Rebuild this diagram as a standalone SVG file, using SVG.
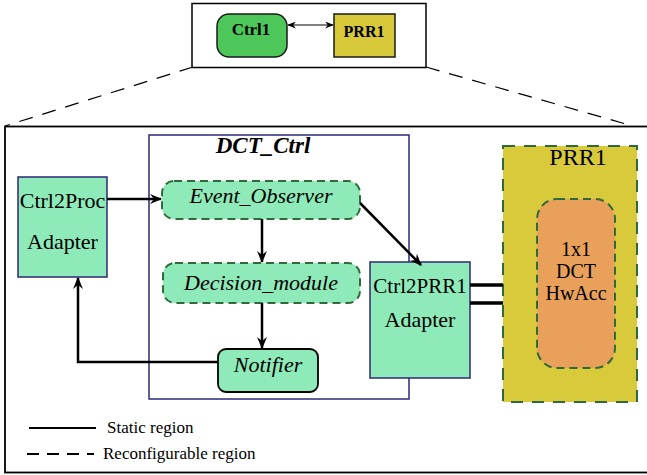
<svg xmlns="http://www.w3.org/2000/svg" width="647" height="475" viewBox="0 0 647 475">
<style>
text{font-family:"Liberation Serif","DejaVu Serif","Times New Roman",serif;fill:#000}
.static{fill:#8eeab8;stroke:#2b2a78;stroke-width:1.5}
.reconf{fill:#8eeab8;stroke:#2f6b3a;stroke-width:2;stroke-dasharray:8 5}
.conn{stroke:#000;stroke-width:2.5;fill:none}
.zoom{stroke:#000;stroke-width:1.2;fill:none;stroke-dasharray:14 10}
</style>
<defs>
<marker id="ah" viewBox="0 0 12 10" refX="11" refY="5" markerWidth="12" markerHeight="10" markerUnits="userSpaceOnUse" orient="auto">
<path d="M0,0 L12,5 L0,10 L4,5 Z" fill="#000"/>
</marker>
<marker id="sa" viewBox="0 0 10 8" refX="9" refY="4" markerWidth="9" markerHeight="7" markerUnits="userSpaceOnUse" orient="auto-start-reverse">
<path d="M0,0 L10,4 L0,8 L3,4 Z" fill="#000"/>
</marker>
</defs>
<rect width="647" height="475" fill="#fff"/>

<g id="overview">
<rect x="192" y="3.5" width="234" height="64" fill="#fff" stroke="#000" stroke-width="1.5"/>
<g id="ctrl1">
<rect x="217" y="14" width="70" height="43" rx="12" fill="#4dc65a" stroke="#1a1a1a" stroke-width="1.5"/>
<text font-family="Liberation Serif, DejaVu Serif, serif" x="251" y="35" font-size="17" font-weight="bold" text-anchor="middle">Ctrl1</text>
</g>
<g id="prr1-small">
<rect x="334" y="14" width="61" height="43" fill="#d8c93a" stroke="#1a1a1a" stroke-width="1.5"/>
<text font-family="Liberation Serif, DejaVu Serif, serif" x="364" y="37" font-size="16" font-weight="bold" text-anchor="middle">PRR1</text>
</g>
<line x1="288" y1="25" x2="333" y2="25" stroke="#000" stroke-width="1.2" marker-start="url(#sa)" marker-end="url(#sa)"/>
</g>

<g id="zoom-lines">
<line class="zoom" x1="193" y1="67" x2="5" y2="126"/>
<line class="zoom" x1="426" y1="67" x2="633" y2="126"/>
</g>

<rect id="outer" x="5" y="126.5" width="660" height="346" fill="none" stroke="#000" stroke-width="1.8"/>

<g id="dct-ctrl">
<rect x="149" y="135" width="260" height="264" fill="none" stroke="#2b2a78" stroke-width="1.5"/>
<text font-family="Liberation Serif, DejaVu Serif, serif" x="263" y="153" font-size="23" font-weight="bold" font-style="italic" text-anchor="middle">DCT_Ctrl</text>
</g>

<g id="prr1">
<rect x="503" y="146" width="134" height="256" fill="#d9ca3b" stroke="#2f6b3a" stroke-width="2" stroke-dasharray="12 9"/>
<text font-family="Liberation Serif, DejaVu Serif, serif" x="578" y="165" font-size="24" text-anchor="middle">PRR1</text>
</g>

<g id="hwacc">
<rect x="537" y="199" width="78" height="169" rx="20" fill="#e8a05a" stroke="#2f6b3a" stroke-width="2" stroke-dasharray="8 5"/>
<text font-family="Liberation Serif, DejaVu Serif, serif" x="576" y="256" font-size="20" text-anchor="middle">1x1</text>
<text font-family="Liberation Serif, DejaVu Serif, serif" x="576" y="278" font-size="20" text-anchor="middle">DCT</text>
<text font-family="Liberation Serif, DejaVu Serif, serif" x="576" y="300" font-size="20" text-anchor="middle">HwAcc</text>
</g>

<g id="ctrl2proc">
<rect class="static" x="18" y="177" width="89" height="100"/>
<text font-family="Liberation Serif, DejaVu Serif, serif" x="62.5" y="208" font-size="22" text-anchor="middle">Ctrl2Proc</text>
<text font-family="Liberation Serif, DejaVu Serif, serif" x="62.5" y="249" font-size="22" text-anchor="middle">Adapter</text>
</g>

<g id="event-observer">
<rect class="reconf" x="162" y="181" width="198" height="38" rx="12"/>
<text font-family="Liberation Serif, DejaVu Serif, serif" x="261" y="203" font-size="22" font-style="italic" text-anchor="middle">Event_Observer</text>
</g>

<g id="decision-module">
<rect class="reconf" x="163" y="263" width="197" height="40" rx="12"/>
<text font-family="Liberation Serif, DejaVu Serif, serif" x="261" y="290" font-size="22" font-style="italic" text-anchor="middle">Decision_module</text>
</g>

<g id="notifier">
<rect x="218" y="349" width="100" height="43" rx="8" fill="#8eeab8" stroke="#000" stroke-width="1.8"/>
<text font-family="Liberation Serif, DejaVu Serif, serif" x="268" y="372" font-size="22" font-style="italic" text-anchor="middle">Notifier</text>
</g>

<g id="ctrl2prr1">
<rect class="static" x="370" y="262" width="100" height="116"/>
<text font-family="Liberation Serif, DejaVu Serif, serif" x="420" y="293" font-size="21" text-anchor="middle">Ctrl2PRR1</text>
<text font-family="Liberation Serif, DejaVu Serif, serif" x="420" y="327" font-size="22" text-anchor="middle">Adapter</text>
</g>

<g id="connectors">
<line class="conn" x1="107" y1="199" x2="161" y2="199" marker-end="url(#ah)"/>
<line class="conn" x1="262" y1="219" x2="262" y2="262" marker-end="url(#ah)"/>
<line class="conn" x1="262" y1="303" x2="262" y2="348" marker-end="url(#ah)"/>
<polyline class="conn" points="218,362 78,362 78,278" marker-end="url(#ah)"/>
<line class="conn" x1="360" y1="203" x2="421" y2="265" marker-end="url(#ah)"/>
<line x1="470" y1="285" x2="503" y2="285" stroke="#000" stroke-width="3.5"/>
<line x1="470" y1="303" x2="503" y2="303" stroke="#000" stroke-width="3.5"/>
</g>

<g id="legend">
<line x1="29" y1="428" x2="96" y2="428" stroke="#000" stroke-width="2"/>
<text font-family="Liberation Serif, DejaVu Serif, serif" x="107" y="433" font-size="17">Static region</text>
<line x1="27" y1="454" x2="94" y2="454" stroke="#000" stroke-width="2" stroke-dasharray="12 8"/>
<text font-family="Liberation Serif, DejaVu Serif, serif" x="103" y="459" font-size="17">Reconfigurable region</text>
</g>
</svg>
